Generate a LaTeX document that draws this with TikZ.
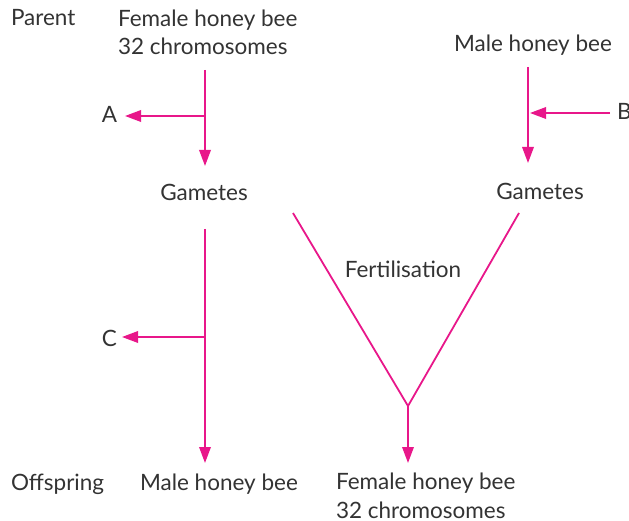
\documentclass[tikz,border=0pt]{standalone}
\usepackage{fontspec}
\setmainfont{Lato}
\usetikzlibrary{arrows.meta}
\definecolor{arrowpink}{HTML}{E8178A}
\definecolor{ink}{HTML}{333333}
\begin{document}
\begin{tikzpicture}[x=1pt,y=-1pt,
  lbl/.style={text=ink, font=\fontsize{22.5}{28.5}\selectfont, inner sep=0pt, outer sep=0pt},
  flow/.style={draw=arrowpink, line width=1.8pt, -{Triangle[length=16pt,width=11.5pt]}},
  link/.style={draw=arrowpink, line width=1.8pt}]
\useasboundingbox (0,0) rectangle (629,521);

% row labels
\node[lbl, anchor=base west] (parent) at (11,26) {Parent};
\node[lbl, anchor=base west] (offspring) at (11,490) {Offspring};

% parents (two-line nodes are placed by the baseline of their last line)
\node[lbl, anchor=base west, align=left] (femP) at (118,55) {Female honey bee\\32 chromosomes};
\node[lbl, anchor=base west] (maleP) at (454,52) {Male honey bee};

% gametes
\node[lbl, anchor=base] (gamF) at (204,201) {Gametes};
\node[lbl, anchor=base] (gamM) at (540,200) {Gametes};
\node[lbl, anchor=base] (fert) at (403,278) {Fertilisation};

% offspring
\node[lbl, anchor=base west] (maleO) at (140,490) {Male honey bee};
\node[lbl, anchor=base west, align=left] (femO) at (336,518) {Female honey bee\\32 chromosomes};

% process labels
\node[lbl, anchor=base east] (A) at (117,123) {A};
\node[lbl, anchor=base west] (B) at (617,120) {B};
\node[lbl, anchor=base east] (C) at (117,346) {C};

% connector end points
\coordinate (fS) at (205,70);
\coordinate (fJ) at (205,116);
\coordinate (fE) at (205,166);
\coordinate (aE) at (125,116);
\coordinate (mS) at (528,67);
\coordinate (mE) at (528,163);
\coordinate (bS) at (610,113);
\coordinate (bE) at (530,113);
\coordinate (gS) at (205,229);
\coordinate (gJ) at (205,337);
\coordinate (gE) at (205,463);
\coordinate (cE) at (122,337);
\coordinate (vL) at (293,213);
\coordinate (vR) at (519,213);
\coordinate (vJ) at (408,406);
\coordinate (vE) at (408,463);

% female parent -> gametes, meiosis branch A
\draw[flow] (fS) -- (fE);
\draw[flow] (fJ) -- (aE);
% male parent -> gametes, branch B joining
\draw[flow] (mS) -- (mE);
\draw[flow] (bS) -- (bE);
% unfertilised gametes -> male offspring, branch C
\draw[flow] (gS) -- (gE);
\draw[flow] (gJ) -- (cE);
% fertilisation
\draw[link, line join=miter] (vL) -- (vJ) -- (vR);
\draw[flow] (vJ) -- (vE);
\end{tikzpicture}
\end{document}
